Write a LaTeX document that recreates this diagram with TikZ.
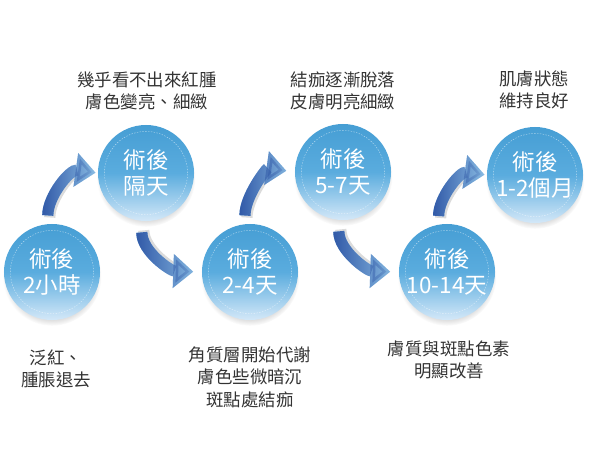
\documentclass[tikz,border=0pt]{standalone}
\usepackage{fontspec}
\setmainfont{Noto Sans CJK TC}
\usetikzlibrary{arrows.meta,shadows,fadings}

\tikzset{
  stage/.style={circle,minimum size=2.4cm,inner sep=0pt,text=white,
    top color=cballtop,bottom color=cballbot,middle color=cballmid,
    circular drop shadow={shadow xshift=0pt,shadow yshift=-3pt,shadow scale=1.03,opacity=.3},
    font=\fontsize{16}{18}\selectfont,align=center,
    path picture={\draw[white,opacity=.6,line width=.3pt,dash pattern=on 1pt off 1pt]
      (path picture bounding box.center) circle[radius=1.04cm];}},
  note/.style={text=black!80,font=\fontsize{12.4}{16}\selectfont,align=center},
  flow/.style={line width=0.28cm,cflowlight,-{Triangle[length=0.5cm,width=0.82cm]},
    postaction={draw=cflowdark,path fading=east}},
  bevel/.style={line width=0.28cm,black!14},
}

\begin{document}
\begin{tikzpicture}[x=0.025cm,y=0.025cm]
\definecolor{cballtop}{RGB}{70,158,212}
\definecolor{cballmid}{RGB}{90,172,222}
\definecolor{cballbot}{RGB}{212,232,248}
\definecolor{cflowlight}{RGB}{150,202,236}
\definecolor{cflowdark}{RGB}{50,90,168}
\useasboundingbox (0,0) rectangle (600,-450);

% stages
\node[stage] (c1) at (52,-272) {術後\\2小時};
\node[stage] (c2) at (146,-173) {術後\\隔天};
\node[stage] (c3) at (250,-272) {術後\\2-4天};
\node[stage] (c4) at (343,-172) {術後\\5-7天};
\node[stage] (c5) at (447,-272) {術後\\10-14天};
\node[stage] (c6) at (535,-175) {術後\\1-2個月};

% notes
\node[note] (t2) at (147,-91) {幾乎看不出來紅腫\\膚色變亮、細緻};
\node[note] (t4) at (343,-91) {結痂逐漸脫落\\皮膚明亮細緻};
\node[note] (t6) at (534,-90) {肌膚狀態\\維持良好};
\node[note] (b1) at (56,-369) {泛紅、\\腫脹退去};
\node[note] (b3) at (250,-377) {角質層開始代謝\\膚色些微暗沉\\斑點處結痂};
\node[note] (b5) at (449,-360) {膚質與斑點色素\\明顯改善};

% up arrows
\draw[bevel,shorten <=6pt,shorten >=16pt] ([shift={(2,-2)}]c1.95) to[out=90,in=172] ([shift={(2,-2)}]c2.west);
\draw[flow,shorten <=6pt,shorten >=1.5pt] (c1.95) to[out=90,in=172] (c2.west);
\draw[bevel,shorten <=6pt,shorten >=20pt] ([shift={(2,-2)}]c3.96) to[out=90,in=172] ([shift={(2,-2)}]c4.west);
\draw[flow,shorten <=6pt,shorten >=6pt] (c3.96) to[out=90,in=172] (c4.west);
\draw[bevel,shorten <=6pt,shorten >=16pt] ([shift={(2,-2)}]c5.100) to[out=90,in=172] ([shift={(2,-2)}]c6.west);
\draw[flow,shorten <=6pt,shorten >=1.5pt] (c5.100) to[out=90,in=172] (c6.west);

% down arrows
\draw[bevel,shorten <=8pt,shorten >=20pt] ([shift={(2,2)}]c2.265) to[out=-90,in=178] ([shift={(2,2)}]c3.west);
\draw[flow,shorten <=8pt,shorten >=6pt] (c2.265) to[out=-90,in=178] (c3.west);
\draw[bevel,shorten <=8pt,shorten >=20pt] ([shift={(2,2)}]c4.265) to[out=-90,in=178] ([shift={(2,2)}]c5.west);
\draw[flow,shorten <=8pt,shorten >=6pt] (c4.265) to[out=-90,in=178] (c5.west);
\end{tikzpicture}
\end{document}
